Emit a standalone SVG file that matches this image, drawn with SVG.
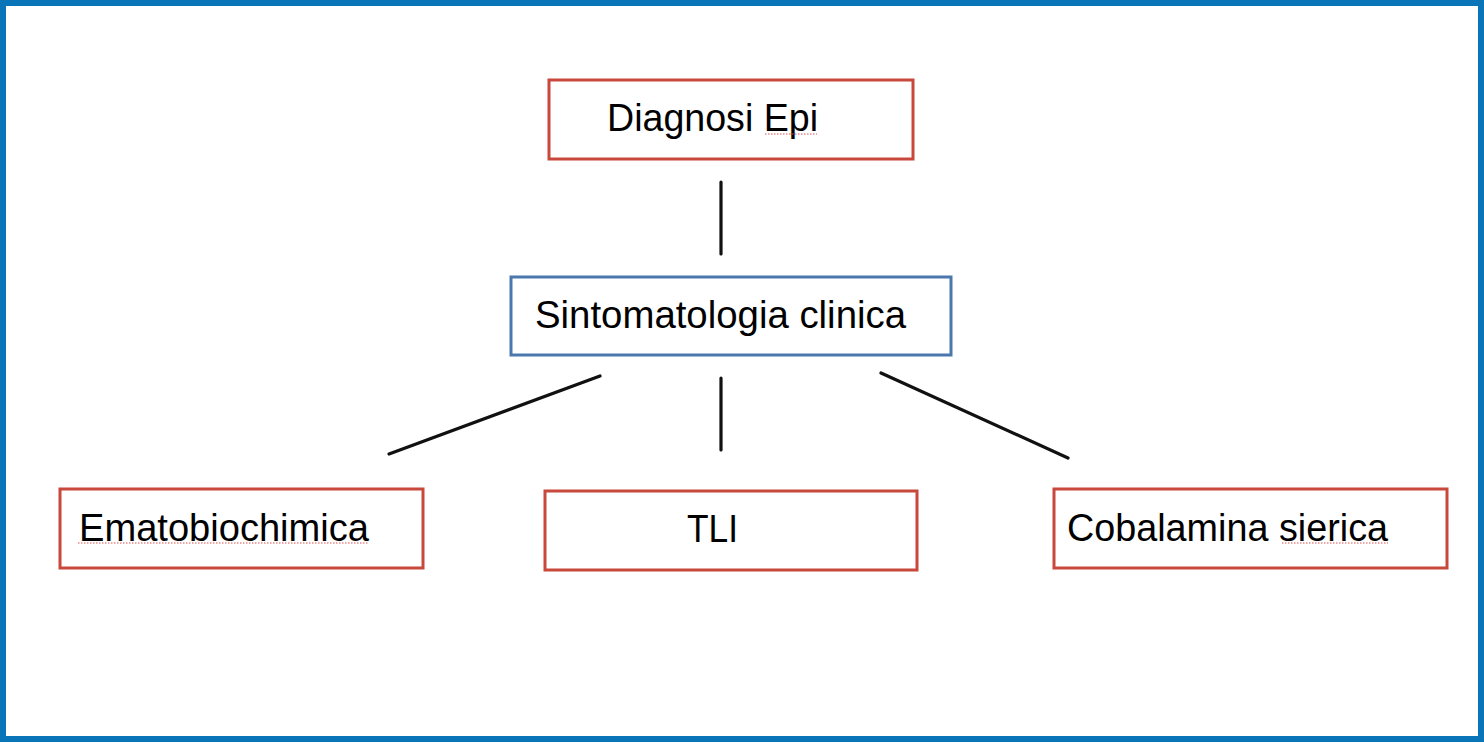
<svg xmlns="http://www.w3.org/2000/svg" width="1484" height="742" viewBox="0 0 1484 742">
<style>
.frame{fill:#ffffff;stroke:#0A74B8;stroke-width:6}
.red{fill:#ffffff;stroke:#C8493B;stroke-width:3}
.blue{fill:#ffffff;stroke:#4A78AE;stroke-width:3}
.lbl{font-family:"Liberation Sans",Arial,Helvetica,sans-serif;font-size:38px;fill:#000000}
.conn line{stroke:#111111;stroke-width:3.2;stroke-linecap:round}
.spell{stroke:#D9534F;stroke-width:1.2;stroke-dasharray:1.5 1.5}
</style>
<rect class="frame" x="3" y="3" width="1478" height="736"/>
<g id="connectors" class="conn">
<line x1="721" y1="182" x2="721" y2="254"/>
<line x1="721" y1="378" x2="721" y2="450"/>
<line x1="600" y1="376" x2="389" y2="454"/>
<line x1="881" y1="373" x2="1068" y2="458"/>
</g>
<g id="node-diagnosi">
<rect class="red" x="549" y="80" width="364" height="79"/>
<text class="lbl" x="607" y="131" textLength="211" lengthAdjust="spacingAndGlyphs">Diagnosi Epi</text>
<line class="spell" x1="765" y1="134" x2="817" y2="134"/>
</g>
<g id="node-sintomatologia">
<rect class="blue" x="511" y="277" width="440" height="78"/>
<text class="lbl" x="535" y="328" textLength="371" lengthAdjust="spacingAndGlyphs">Sintomatologia clinica</text>
</g>
<g id="node-ematobiochimica">
<rect class="red" x="60" y="489" width="363" height="79"/>
<text class="lbl" x="79" y="541" textLength="290" lengthAdjust="spacingAndGlyphs">Ematobiochimica</text>
<line class="spell" x1="78" y1="543" x2="369" y2="543"/>
</g>
<g id="node-tli">
<rect class="red" x="545" y="491" width="372" height="79"/>
<text class="lbl" x="687" y="542" textLength="51" lengthAdjust="spacingAndGlyphs">TLI</text>
</g>
<g id="node-cobalamina">
<rect class="red" x="1054" y="489" width="393" height="79"/>
<text class="lbl" x="1067" y="541" textLength="321" lengthAdjust="spacingAndGlyphs">Cobalamina sierica</text>
<line class="spell" x1="1282" y1="543" x2="1388" y2="543"/>
</g>
</svg>
